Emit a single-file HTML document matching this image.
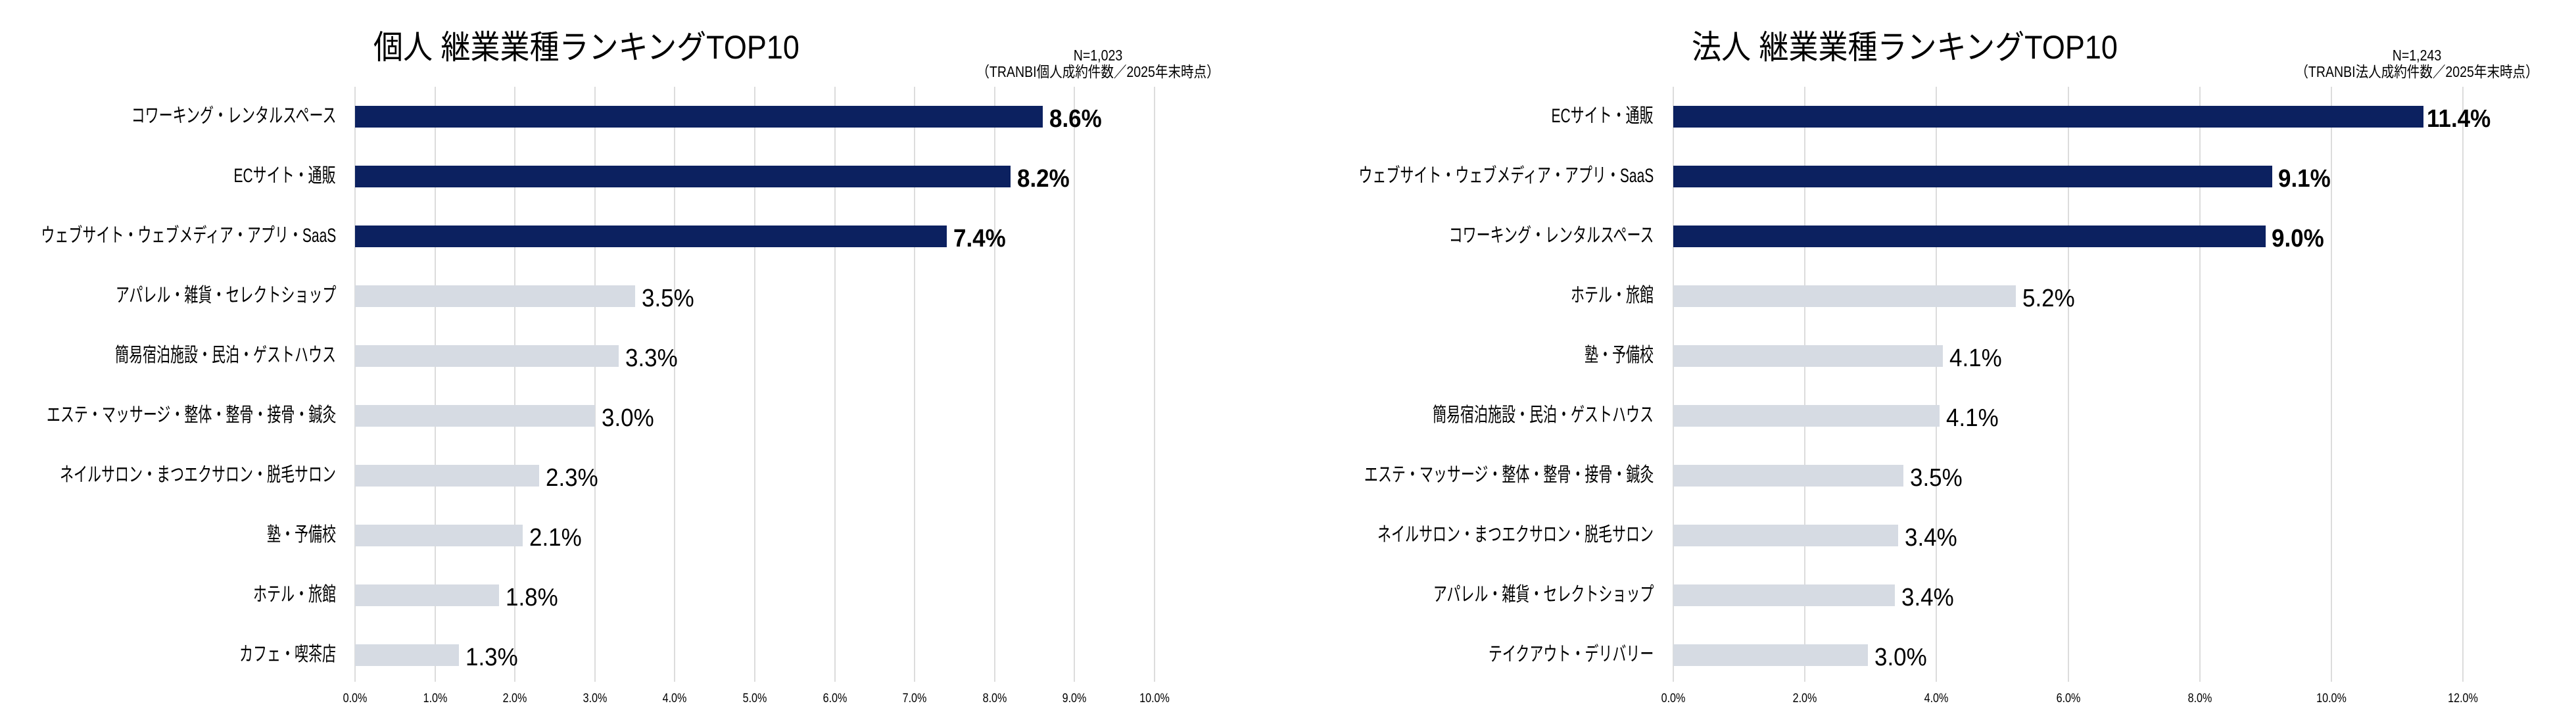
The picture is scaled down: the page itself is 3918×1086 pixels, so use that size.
<!DOCTYPE html>
<html><head><meta charset="utf-8"><style>
body{margin:0;width:3918px;height:1086px;background:#fff;position:relative;overflow:hidden;font-family:"Liberation Sans","Noto Sans CJK JP",sans-serif;color:#000}
div{position:absolute}
.g{top:132px;height:905px;width:2px;background:#dcdcdc}
.t{top:1052px;font-size:19px;width:80px;margin-left:-40px;text-align:center;transform:scaleX(.85)}
.b{height:33px}
.n{background:#0c2160}.l{background:#d6dbe3}
.lab{font-size:30px;white-space:nowrap;transform:scaleX(.7);transform-origin:right center;text-align:right;line-height:34px}
.v{font-size:38px;white-space:nowrap;transform:scaleX(.92);transform-origin:left center;line-height:34px}
.vb{font-weight:bold}
.title{font-size:50px;top:32px;white-space:nowrap;transform:scaleX(.9);transform-origin:left center}
.note{font-size:23px;white-space:nowrap;text-align:center;line-height:25px;transform:scaleX(.85)}
</style></head><body>
<!-- LEFT -->
<div class="title" style="left:568px">個人 継業業種ランキングTOP10</div>
<div class="note" style="left:1440px;width:460px;top:72px">N=1,023<br>（TRANBI個人成約件数／2025年末時点）</div>
<div class="g" style="left:539px"></div><div class="g" style="left:661px"></div><div class="g" style="left:782px"></div><div class="g" style="left:904px"></div><div class="g" style="left:1025px"></div><div class="g" style="left:1147px"></div><div class="g" style="left:1269px"></div><div class="g" style="left:1390px"></div><div class="g" style="left:1512px"></div><div class="g" style="left:1633px"></div><div class="g" style="left:1755px"></div>
<div class="t" style="left:540px">0.0%</div><div class="t" style="left:662px">1.0%</div><div class="t" style="left:783px">2.0%</div><div class="t" style="left:905px">3.0%</div><div class="t" style="left:1026px">4.0%</div><div class="t" style="left:1148px">5.0%</div><div class="t" style="left:1270px">6.0%</div><div class="t" style="left:1391px">7.0%</div><div class="t" style="left:1513px">8.0%</div><div class="t" style="left:1634px">9.0%</div><div class="t" style="left:1756px">10.0%</div>

<div class="b n" style="left:540px;top:161px;width:1046px"></div><div class="lab" style="right:3407px;top:160px">コワーキング・レンタルスペース</div><div class="v vb" style="left:1596px;top:164px">8.6%</div>
<div class="b n" style="left:540px;top:252px;width:997px"></div><div class="lab" style="right:3407px;top:251px">ECサイト・通販</div><div class="v vb" style="left:1547px;top:255px">8.2%</div>
<div class="b n" style="left:540px;top:343px;width:900px"></div><div class="lab" style="right:3407px;top:342px">ウェブサイト・ウェブメディア・アプリ・SaaS</div><div class="v vb" style="left:1450px;top:346px">7.4%</div>
<div class="b l" style="left:540px;top:434px;width:426px"></div><div class="lab" style="right:3407px;top:433px">アパレル・雑貨・セレクトショップ</div><div class="v" style="left:976px;top:437px">3.5%</div>
<div class="b l" style="left:540px;top:525px;width:401px"></div><div class="lab" style="right:3407px;top:524px">簡易宿泊施設・民泊・ゲストハウス</div><div class="v" style="left:951px;top:528px">3.3%</div>
<div class="b l" style="left:540px;top:616px;width:365px"></div><div class="lab" style="right:3407px;top:615px">エステ・マッサージ・整体・整骨・接骨・鍼灸</div><div class="v" style="left:915px;top:619px">3.0%</div>
<div class="b l" style="left:540px;top:707px;width:280px"></div><div class="lab" style="right:3407px;top:706px">ネイルサロン・まつエクサロン・脱毛サロン</div><div class="v" style="left:830px;top:710px">2.3%</div>
<div class="b l" style="left:540px;top:798px;width:255px"></div><div class="lab" style="right:3407px;top:797px">塾・予備校</div><div class="v" style="left:805px;top:801px">2.1%</div>
<div class="b l" style="left:540px;top:889px;width:219px"></div><div class="lab" style="right:3407px;top:888px">ホテル・旅館</div><div class="v" style="left:769px;top:892px">1.8%</div>
<div class="b l" style="left:540px;top:980px;width:158px"></div><div class="lab" style="right:3407px;top:979px">カフェ・喫茶店</div><div class="v" style="left:708px;top:983px">1.3%</div>

<!-- RIGHT -->
<div class="title" style="left:2573px">法人 継業業種ランキングTOP10</div>
<div class="note" style="left:3446px;width:460px;top:72px">N=1,243<br>（TRANBI法人成約件数／2025年末時点）</div>
<div class="g" style="left:2544px"></div><div class="g" style="left:2744px"></div><div class="g" style="left:2944px"></div><div class="g" style="left:3145px"></div><div class="g" style="left:3345px"></div><div class="g" style="left:3545px"></div><div class="g" style="left:3745px"></div>
<div class="t" style="left:2545px">0.0%</div><div class="t" style="left:2745px">2.0%</div><div class="t" style="left:2945px">4.0%</div><div class="t" style="left:3146px">6.0%</div><div class="t" style="left:3346px">8.0%</div><div class="t" style="left:3546px">10.0%</div><div class="t" style="left:3746px">12.0%</div>

<div class="b n" style="left:2545px;top:161px;width:1141px"></div><div class="lab" style="right:1403px;top:160px">ECサイト・通販</div><div class="v vb" style="left:3691px;top:164px">11.4%</div>
<div class="b n" style="left:2545px;top:252px;width:911px"></div><div class="lab" style="right:1403px;top:251px">ウェブサイト・ウェブメディア・アプリ・SaaS</div><div class="v vb" style="left:3465px;top:255px">9.1%</div>
<div class="b n" style="left:2545px;top:343px;width:901px"></div><div class="lab" style="right:1403px;top:342px">コワーキング・レンタルスペース</div><div class="v vb" style="left:3455px;top:346px">9.0%</div>
<div class="b l" style="left:2545px;top:434px;width:521px"></div><div class="lab" style="right:1403px;top:433px">ホテル・旅館</div><div class="v" style="left:3076px;top:437px">5.2%</div>
<div class="b l" style="left:2545px;top:525px;width:410px"></div><div class="lab" style="right:1403px;top:524px">塾・予備校</div><div class="v" style="left:2965px;top:528px">4.1%</div>
<div class="b l" style="left:2545px;top:616px;width:405px"></div><div class="lab" style="right:1403px;top:615px">簡易宿泊施設・民泊・ゲストハウス</div><div class="v" style="left:2960px;top:619px">4.1%</div>
<div class="b l" style="left:2545px;top:707px;width:350px"></div><div class="lab" style="right:1403px;top:706px">エステ・マッサージ・整体・整骨・接骨・鍼灸</div><div class="v" style="left:2905px;top:710px">3.5%</div>
<div class="b l" style="left:2545px;top:798px;width:342px"></div><div class="lab" style="right:1403px;top:797px">ネイルサロン・まつエクサロン・脱毛サロン</div><div class="v" style="left:2897px;top:801px">3.4%</div>
<div class="b l" style="left:2545px;top:889px;width:337px"></div><div class="lab" style="right:1403px;top:888px">アパレル・雑貨・セレクトショップ</div><div class="v" style="left:2892px;top:892px">3.4%</div>
<div class="b l" style="left:2545px;top:980px;width:296px"></div><div class="lab" style="right:1403px;top:979px">テイクアウト・デリバリー</div><div class="v" style="left:2851px;top:983px">3.0%</div>
</body></html>
